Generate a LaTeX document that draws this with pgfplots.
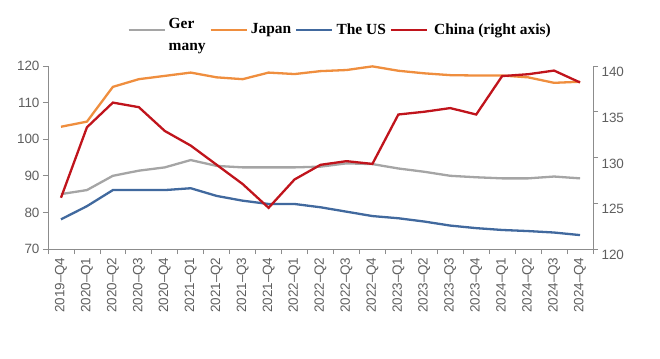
\documentclass[border=0pt]{standalone}
\usepackage{pgfplots}
\pgfplotsset{compat=1.18}
\usepackage{pgfplotstable}
\usepackage{fontspec}
\setmainfont{Liberation Sans}
\newfontfamily\legfont{Liberation Serif}
\definecolor{cGer}{HTML}{A5A5A5}
\definecolor{cJap}{HTML}{EF8E3E}
\definecolor{cUS}{HTML}{41699E}
\definecolor{cCN}{HTML}{C0141C}
\definecolor{axgray}{HTML}{8C8C8C}
\definecolor{txt}{HTML}{5F5F5F}

\pgfplotstableread{
x ger jap us
0 85.0 103.4 78.1
1 86.1 104.8 81.7
2 90.0 114.3 86.1
3 91.4 116.4 86.1
4 92.3 117.3 86.1
5 94.3 118.2 86.6
6 92.7 116.9 84.5
7 92.3 116.4 83.2
8 92.3 118.2 82.3
9 92.3 117.8 82.3
10 92.5 118.6 81.4
11 93.4 118.9 80.2
12 93.2 119.9 79.0
13 92.0 118.7 78.4
14 91.1 118.0 77.5
15 90.0 117.5 76.4
16 89.6 117.4 75.7
17 89.3 117.4 75.2
18 89.3 116.9 74.9
19 89.8 115.4 74.5
20 89.3 115.7 73.8
}\lefttab

\pgfplotstableread{
x cn
0 125.6
1 133.3
2 136.0
3 135.5
4 132.9
5 131.3
6 129.2
7 127.1
8 124.5
9 127.6
10 129.2
11 129.6
12 129.3
13 134.7
14 135.0
15 135.4
16 134.7
17 138.9
18 139.1
19 139.5
20 138.2
}\righttab

\pgfplotsset{
  common/.style={
    scale only axis, width=545bp, height=183bp,
    at={(0,0)}, anchor=south west,
    xmin=-0.5, xmax=20.5,
    tick align=outside,
    major tick length=5bp, minor tick length=5bp,
    axis line style={axgray, line width=1pt},
    tick style={axgray, line width=0.8pt},
    ticklabel style={txt, font=\fontsize{13.5}{13.5}\selectfont},
    /pgf/number format/assume math mode=true,
  }
}

\begin{document}
\begin{tikzpicture}
\useasboundingbox (-48bp,-110bp) rectangle (612bp,249bp);
\begin{axis}[common,
  ymin=70, ymax=120,
  axis x line*=bottom, axis y line*=left,
  xtick={0,...,20},
  xticklabels={2019--Q4,2020--Q1,2020--Q2,2020--Q3,2020--Q4,2021--Q1,2021--Q2,2021--Q3,2021--Q4,2022--Q1,2022--Q2,2022--Q3,2022--Q4,2023--Q1,2023--Q2,2023--Q3,2023--Q4,2024--Q1,2024--Q2,2024--Q3,2024--Q4},
  x tick label style={rotate=90, anchor=east, font=\fontsize{13.5}{13.5}\selectfont},
  major x tick style={draw=none},
  minor xtick={-0.5,0.5,...,20.5},
  ytick={70,80,...,120},
  legend columns=4,
  legend style={at={(0.536,1.11)}, anchor=south, draw=none, fill=none,
    font=\legfont\bfseries\fontsize{15.5}{15.5}\selectfont,
    /tikz/every even column/.append style={column sep=2bp},
    /tikz/every odd column/.append style={column sep=1bp}},
  legend image code/.code={\draw[#1] (0bp,0bp) -- (36bp,0bp);},
]
\addplot[cGer, line width=2.3bp] table[x=x,y=ger]{\lefttab};
\addlegendentry{\begin{tabular}{@{}l@{}}Ger\\[7bp]many\end{tabular}\hspace{8bp}}
\addplot[cJap, line width=2.3bp] table[x=x,y=jap]{\lefttab};
\addlegendentry{Japan}
\addplot[cUS, line width=2.3bp] table[x=x,y=us]{\lefttab};
\addlegendentry{The US}
\addlegendimage{cCN, line width=2.3bp}
\addlegendentry{\hspace{3bp}China (right axis)}
\end{axis}
\begin{axis}[common,
  ymin=120, ymax=140,
  axis x line=none, axis y line*=right,
  ytick={120,125,...,140},
  yticklabel style={yshift=-6bp},
]
\addplot[cCN, line width=2.3bp] table[x=x,y=cn]{\righttab};
\end{axis}
\end{tikzpicture}
\end{document}
